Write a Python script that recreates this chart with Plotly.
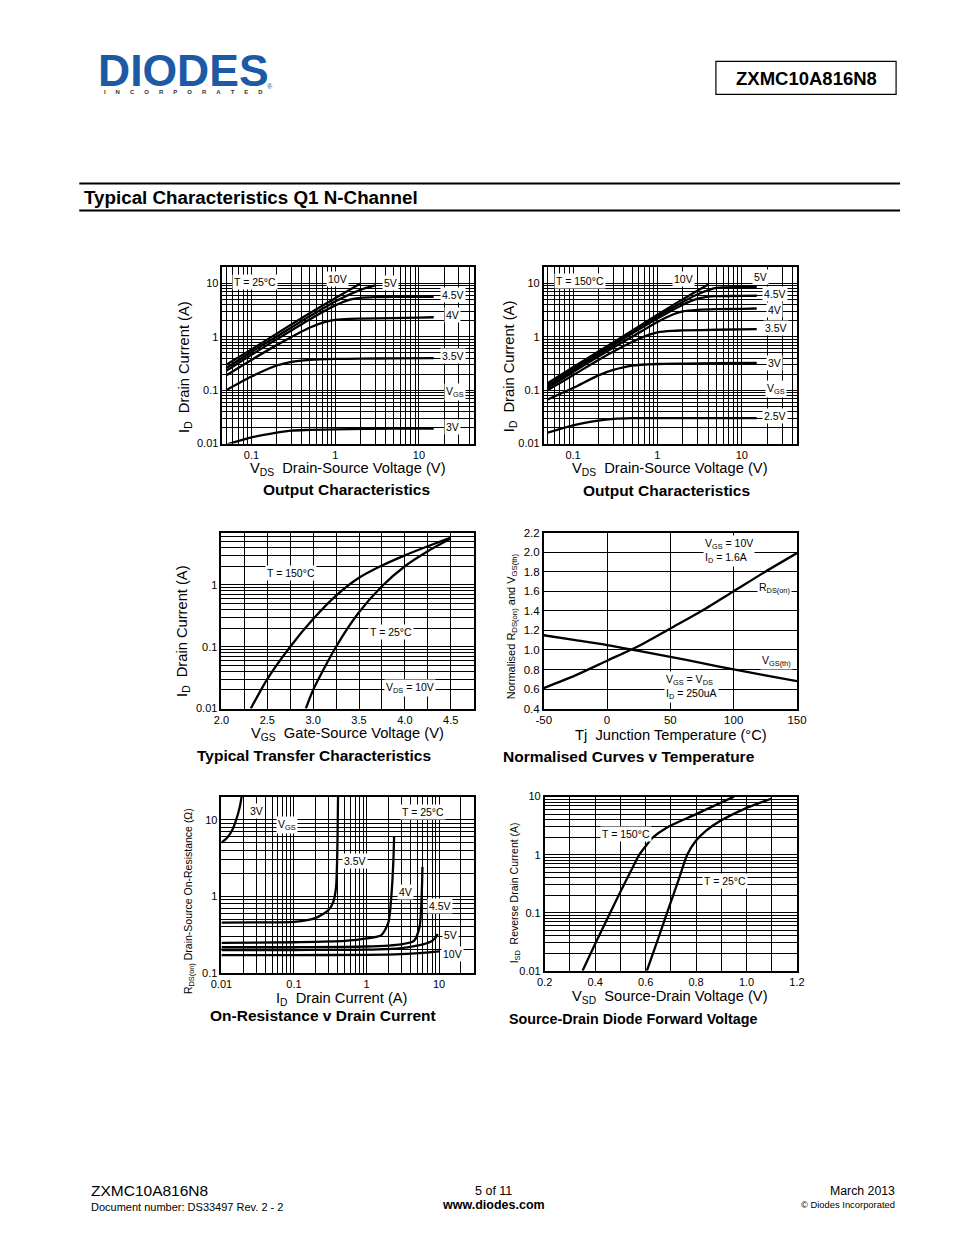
import numpy as np
import plotly.graph_objects as go

W, H = 954, 1235
FONT = "Liberation Sans, Arial, sans-serif"

# ---------------- data ----------------
# Output characteristics, T = 25 C  (V_DS in V, I_D in A)
oc25_10v_x = [0.05, 0.1, 0.2, 0.5, 1, 2]
oc25_10v_y = [0.30, 0.58, 1.15, 2.8, 5.3, 10]
oc25_5v_x = [0.05, 0.1, 0.2, 0.5, 1, 2, 3]
oc25_5v_y = [0.26, 0.52, 1.02, 2.45, 4.6, 7.6, 9.2]
oc25_45v_x = [0.05, 0.1, 0.2, 0.5, 1, 1.5, 2, 3, 5, 10, 15]
oc25_45v_y = [0.23, 0.46, 0.9, 2.15, 3.9, 5.0, 5.4, 5.55, 5.6, 5.6, 5.6]
oc25_4v_x = [0.05, 0.1, 0.2, 0.5, 0.8, 1, 1.5, 2, 5, 10, 15]
oc25_4v_y = [0.19, 0.37, 0.7, 1.5, 1.95, 2.08, 2.18, 2.2, 2.25, 2.3, 2.33]
oc25_35v_x = [0.05, 0.1, 0.2, 0.3, 0.5, 1, 2, 5, 15]
oc25_35v_y = [0.10, 0.18, 0.29, 0.34, 0.37, 0.385, 0.39, 0.395, 0.40]
oc25_3v_x = [0.05, 0.1, 0.2, 0.3, 0.5, 1, 5, 15]
oc25_3v_y = [0.0095, 0.013, 0.016, 0.0175, 0.018, 0.0185, 0.019, 0.019]

# Output characteristics, T = 150 C
oc150_10v_x = [0.05, 0.1, 0.2, 0.5, 1, 2, 4]
oc150_10v_y = [0.135, 0.27, 0.53, 1.3, 2.6, 5.1, 9.6]
oc150_5v_x = [0.05, 0.1, 0.2, 0.5, 1, 2, 3, 5, 10, 15]
oc150_5v_y = [0.125, 0.25, 0.5, 1.2, 2.4, 4.5, 6.3, 8.3, 8.6, 8.6]
oc150_45v_x = [0.05, 0.1, 0.2, 0.5, 1, 2, 3, 4, 5, 10, 15]
oc150_45v_y = [0.12, 0.24, 0.47, 1.15, 2.2, 4.0, 5.2, 5.7, 5.8, 5.85, 5.9]
oc150_4v_x = [0.05, 0.1, 0.2, 0.5, 1, 1.5, 2, 3, 5, 10, 15]
oc150_4v_y = [0.11, 0.22, 0.43, 1.0, 1.9, 2.6, 3.0, 3.2, 3.3, 3.35, 3.4]
oc150_35v_x = [0.05, 0.1, 0.2, 0.5, 0.8, 1, 1.5, 2, 5, 15]
oc150_35v_y = [0.10, 0.19, 0.37, 0.8, 1.1, 1.22, 1.3, 1.32, 1.36, 1.4]
oc150_3v_x = [0.05, 0.1, 0.2, 0.3, 0.5, 1, 2, 5, 15]
oc150_3v_y = [0.067, 0.11, 0.19, 0.24, 0.29, 0.31, 0.315, 0.32, 0.325]
oc150_25v_x = [0.05, 0.1, 0.2, 0.3, 0.5, 1, 5, 15]
oc150_25v_y = [0.016, 0.022, 0.027, 0.029, 0.03, 0.03, 0.03, 0.03]

# Transfer characteristics (V_GS in V, I_D in A)
tr150_x = [2.32, 2.5, 2.75, 3.0, 3.25, 3.5, 3.75, 4.0, 4.25, 4.5]
tr150_y = [0.01, 0.03, 0.1, 0.28, 0.67, 1.3, 2.05, 3.0, 4.2, 5.8]
tr25_x = [2.92, 3.0, 3.25, 3.5, 3.75, 4.0, 4.25, 4.5]
tr25_y = [0.01, 0.02, 0.1, 0.36, 0.95, 2.0, 3.5, 5.6]

# Normalised curves v temperature
nt_temp = [-50, -25, 0, 25, 50, 75, 100, 125, 150]
nt_rds = [0.61, 0.74, 0.89, 1.04, 1.22, 1.40, 1.60, 1.80, 1.99]
nt_vth = [1.15, 1.10, 1.05, 0.99, 0.93, 0.865, 0.80, 0.74, 0.68]
nt_xticks = [-50, 0, 50, 100, 150]
nt_xlabels = ["-50", "0", "50", "100", "150"]

# On-resistance v drain current (I_D in A, R in ohm)
ron_3v_x = [0.01, 0.012, 0.014, 0.016, 0.018, 0.019]
ron_3v_y = [5.0, 5.8, 7.2, 10, 15, 20]
ron_35v_x = [0.01, 0.05, 0.1, 0.2, 0.3, 0.35, 0.38, 0.395, 0.405]
ron_35v_y = [0.45, 0.455, 0.46, 0.52, 0.66, 0.85, 1.3, 3.5, 20]
ron_4v_x = [0.01, 0.1, 0.5, 1.0, 1.6, 2.0, 2.2, 2.35, 2.4]
ron_4v_y = [0.245, 0.25, 0.26, 0.28, 0.31, 0.45, 1.0, 3.0, 6.0]
ron_45v_x = [0.01, 0.1, 1.0, 3.0, 4.5, 5.4, 5.7, 5.85, 5.9]
ron_45v_y = [0.215, 0.215, 0.22, 0.235, 0.26, 0.4, 0.8, 1.6, 2.4]
ron_5v_x = [0.01, 0.1, 1.0, 3.0, 6.0, 8.0, 9.0, 9.6]
ron_5v_y = [0.198, 0.198, 0.2, 0.21, 0.235, 0.26, 0.29, 0.32]
ron_10v_x = [0.01, 0.1, 1.0, 3.0, 6.0, 10]
ron_10v_y = [0.17, 0.17, 0.171, 0.175, 0.182, 0.19]

# Source-drain diode forward voltage (V_SD in V, I_SD in A)
sd150_x = [0.35, 0.40, 0.45, 0.50, 0.55, 0.575, 0.60, 0.63, 0.685, 0.80, 0.95]
sd150_y = [0.01, 0.029, 0.082, 0.23, 0.62, 1.0, 1.4, 2.0, 2.95, 5.0, 10]
sd25_x = [0.605, 0.65, 0.69, 0.73, 0.765, 0.80, 0.84, 0.90, 0.99, 1.10]
sd25_y = [0.01, 0.036, 0.115, 0.36, 1.0, 1.75, 2.6, 3.9, 6.1, 9.3]

log_ticks_i = [0.01, 0.1, 1, 10]
log_ticks_v = [0.1, 1, 10]

# ---------------- helpers ----------------
# page pixel -> paper fraction (with a small correction for how the page is photographed)
KX, BX = 0.977, 11.8
KY, BY = 0.990, 5.6


def fx(px):
    return ((px - BX) / KX) / W


def fy(py):
    return 1 - ((py - BY) / KY) / H


fig = go.Figure()


def curve(x, y, ax):
    fig.add_trace(go.Scatter(
        x=x, y=y, mode="lines", xaxis="x" + ax, yaxis="y" + ax,
        line=dict(color="black", width=2.3, shape="spline", smoothing=0.7),
        hoverinfo="skip", showlegend=False))


GW = 1.25


def base_axis(**kw):
    d = dict(showline=True, mirror=True, linecolor="black", linewidth=1.6,
             showgrid=True, gridcolor="black", gridwidth=GW, ticks="",
             zeroline=False, fixedrange=True,
             tickfont=dict(family=FONT, size=11, color="black"))
    d.update(kw)
    return d


def log_axis(lo, hi, dom, anchor, ticks):
    return base_axis(type="log", range=[np.log10(lo), np.log10(hi)], domain=dom,
                     anchor=anchor, tickmode="array", tickvals=ticks,
                     ticktext=[("%g" % t) for t in ticks],
                     minor=dict(showgrid=True, gridcolor="black", gridwidth=GW,
                                dtick="D1", ticks=""))


# plot area pixel boxes  (left, right, top, bottom)
boxes = {
    "": (223, 474, 267, 443),
    "2": (544, 797, 267, 443),
    "3": (222, 474, 532, 708),
    "4": (544, 797, 532, 708),
    "5": (222, 474, 796, 972),
    "6": (545, 797, 796, 970),
}


def dx(k):
    l, r, t, b = boxes[k]
    return [fx(l), fx(r)]


def dy(k):
    l, r, t, b = boxes[k]
    return [fy(b), fy(t)]


layout_axes = {}
layout_axes["xaxis"] = log_axis(0.045, 45, dx(""), "y", log_ticks_v)
layout_axes["yaxis"] = log_axis(0.01, 20, dy(""), "x", log_ticks_i)
layout_axes["xaxis2"] = log_axis(0.045, 45, dx("2"), "y2", log_ticks_v)
layout_axes["yaxis2"] = log_axis(0.01, 20, dy("2"), "x2", log_ticks_i)
layout_axes["xaxis3"] = base_axis(range=[2.0, 4.75], domain=dx("3"), anchor="y3",
                                  tick0=2.0, dtick=0.5, tickformat=".1f",
                                  minor=dict(showgrid=True, gridcolor="black",
                                             gridwidth=GW, dtick=0.25, tick0=2.0))
layout_axes["yaxis3"] = log_axis(0.01, 7, dy("3"), "x3", [0.01, 0.1, 1])
layout_axes["xaxis4"] = base_axis(range=[-50, 150], domain=dx("4"), anchor="y4",
                                  tickmode="array", tickvals=nt_xticks, ticktext=nt_xlabels,
                                  tickfont=dict(family=FONT, size=11.5, color="black"))
layout_axes["yaxis4"] = base_axis(range=[0.4, 2.2], domain=dy("4"), anchor="x4",
                                  tick0=0.4, dtick=0.2, tickformat=".1f",
                                  tickfont=dict(family=FONT, size=11.5, color="black"))
layout_axes["xaxis5"] = log_axis(0.01, 30, dx("5"), "y5", [0.01, 0.1, 1, 10])
layout_axes["yaxis5"] = log_axis(0.1, 20, dy("5"), "x5", [0.1, 1, 10])
layout_axes["xaxis6"] = base_axis(range=[0.2, 1.2], domain=dx("6"), anchor="y6",
                                  tick0=0.2, dtick=0.2, tickformat=".1f",
                                  minor=dict(showgrid=True, gridcolor="black",
                                             gridwidth=GW, dtick=0.1, tick0=0.2))
layout_axes["yaxis6"] = log_axis(0.01, 10, dy("6"), "x6", log_ticks_i)

# ---------------- traces ----------------
for x, y in [(oc25_10v_x, oc25_10v_y), (oc25_5v_x, oc25_5v_y), (oc25_45v_x, oc25_45v_y),
             (oc25_4v_x, oc25_4v_y), (oc25_35v_x, oc25_35v_y), (oc25_3v_x, oc25_3v_y)]:
    curve(x, y, "")
for x, y in [(oc150_10v_x, oc150_10v_y), (oc150_5v_x, oc150_5v_y), (oc150_45v_x, oc150_45v_y),
             (oc150_4v_x, oc150_4v_y), (oc150_35v_x, oc150_35v_y), (oc150_3v_x, oc150_3v_y),
             (oc150_25v_x, oc150_25v_y)]:
    curve(x, y, "2")
curve(tr150_x, tr150_y, "3")
curve(tr25_x, tr25_y, "3")
curve(nt_temp, nt_rds, "4")
curve(nt_temp, nt_vth, "4")
for x, y in [(ron_3v_x, ron_3v_y), (ron_35v_x, ron_35v_y), (ron_4v_x, ron_4v_y),
             (ron_45v_x, ron_45v_y), (ron_5v_x, ron_5v_y), (ron_10v_x, ron_10v_y)]:
    curve(x, y, "5")
curve(sd150_x, sd150_y, "6")
curve(sd25_x, sd25_y, "6")

# ---------------- text ----------------
ann = []


def txt(text, px, py, size=11, bold=False, bg=None, xanchor="center",
        yanchor="middle", angle=0, color="black", align="center", family=FONT):
    if bold:
        text = "<b>" + text + "</b>"
    a = dict(text=text, x=fx(px), y=fy(py), xref="paper", yref="paper",
             showarrow=False, xanchor=xanchor, yanchor=yanchor, textangle=angle,
             align=align, font=dict(family=family, size=size, color=color))
    if bg:
        a.update(bgcolor=bg, borderpad=1)
    ann.append(a)


def lab(text, px, py, size=10.5, align="center"):
    txt(text, px, py, size=size, bg="white", align=align)


# chart 1 labels
lab("T = 25°C", 256, 282)
lab("10V", 338, 279)
lab("5V", 391, 283)
lab("4.5V", 453, 295)
lab("4V", 453, 315)
lab("3.5V", 453, 355)
lab("V<sub>GS</sub>", 455, 391)
lab("3V", 453, 426)
# chart 2 labels
lab("T = 150°C", 580, 281)
lab("10V", 684, 279)
lab("5V", 761, 277)
lab("4.5V", 775, 294)
lab("4V", 775, 310)
lab("3.5V", 776, 328)
lab("3V", 775, 362)
lab("V<sub>GS</sub>", 776, 388)
lab("2.5V", 775, 415)
# chart 3 labels
lab("T = 150°C", 292, 572)
lab("T = 25°C", 391, 631)
lab("V<sub>DS</sub> = 10V", 410, 687)
# chart 4 labels
lab("V<sub>GS</sub> = 10V<br>I<sub>D</sub> = 1.6A", 729, 550, align="left")
lab("R<sub>DS(on)</sub>", 775, 587)
lab("V<sub>GS(th)</sub>", 777, 660)
lab("V<sub>GS</sub> = V<sub>DS</sub><br>I<sub>D</sub> = 250uA", 692, 686, align="left")
# chart 5 labels
lab("3V", 257, 810)
lab("V<sub>GS</sub>", 288, 824)
lab("T = 25°C", 423, 811)
lab("3.5V", 355, 860)
lab("4V", 406, 891)
lab("4.5V", 440, 905)
lab("5V", 451, 934)
lab("10V", 453, 953)
# chart 6 labels
lab("T = 150°C", 626, 833)
lab("T = 25°C", 725, 880)

# axis titles
AT = 14.7
txt("V<sub>DS</sub>  Drain-Source Voltage (V)", 348, 468, size=AT)
txt("V<sub>DS</sub>  Drain-Source Voltage (V)", 670, 468, size=AT)
txt("I<sub>D</sub>  Drain Current (A)", 185, 366, size=AT, angle=-90)
txt("I<sub>D</sub>  Drain Current (A)", 510, 366, size=AT, angle=-90)
txt("V<sub>GS</sub>  Gate-Source Voltage (V)", 348, 733, size=AT)
txt("I<sub>D</sub>  Drain Current (A)", 183, 630, size=AT, angle=-90)
txt("Tj  Junction Temperature (°C)", 671, 734, size=AT)
txt("Normalised R<sub>DS(on)</sub> and V<sub>GS(th)</sub>", 512, 626, size=11, angle=-90)
txt("I<sub>D</sub>  Drain Current (A)", 342, 998, size=AT)
txt("R<sub>DS(on)</sub> Drain-Source On-Resistance (Ω)", 189, 900, size=10.5, angle=-90)
txt("V<sub>SD</sub>  Source-Drain Voltage (V)", 670, 996, size=AT)
txt("I<sub>SD</sub>  Reverse Drain Current (A)", 515, 892, size=10.5, angle=-90)

# chart titles
CT = 15.5
txt("Output Characteristics", 347, 489, size=CT, bold=True)
txt("Output Characteristics", 667, 490, size=CT, bold=True)
txt("Typical Transfer Characteristics", 314, 755, size=CT, bold=True)
txt("Normalised Curves v Temperature", 629, 756, size=CT, bold=True)
txt("On-Resistance v Drain Current", 323, 1015, size=CT, bold=True)
txt("Source-Drain Diode Forward Voltage", 633, 1018, size=14.3, bold=True)

# header logo: one text block (big word + small spaced line underneath)
gap = "\u00a0" * 6
logo = ("<span style='font-size:44.5px;color:#1c5aa6'><b>DIODES</b></span><br>"
        "<b>" + gap.join("INCORPORATED") + "</b>")
txt(logo, 184, 97, size=6, color="#333333", yanchor="bottom")
txt("®", 271, 86, size=7, color="#1c5aa6")
txt("ZXMC10A816N8", 806, 78, size=18.5, bold=True)
txt("Typical Characteristics Q1 N-Channel", 83, 197, size=18.8, bold=True, xanchor="left")

# footer
txt("ZXMC10A816N8", 90, 1190, size=15.5, xanchor="left")
txt("Document number: DS33497 Rev. 2 - 2", 90, 1206, size=11, xanchor="left")
txt("5 of 11", 494, 1190, size=12.5)
txt("www.diodes.com", 494, 1204, size=12.5, bold=True)
txt("March 2013", 897, 1190, size=12.3, xanchor="right")
txt("© Diodes Incorporated", 897, 1204, size=9.4, xanchor="right")

shapes = [
    dict(type="rect", xref="paper", yref="paper", x0=fx(716), x1=fx(896), y0=fy(94), y1=fy(61),
         line=dict(color="black", width=1.2), fillcolor="rgba(0,0,0,0)"),
    dict(type="line", xref="paper", yref="paper", x0=fx(80), x1=fx(900), y0=fy(183), y1=fy(183),
         line=dict(color="black", width=2)),
    dict(type="line", xref="paper", yref="paper", x0=fx(80), x1=fx(900), y0=fy(210), y1=fy(210),
         line=dict(color="black", width=2)),
]

fig.update_layout(
    width=W, height=H, margin=dict(l=0, r=0, t=0, b=0),
    paper_bgcolor="white", plot_bgcolor="white", showlegend=False,
    font=dict(family=FONT, color="black"),
    annotations=ann, shapes=shapes, **layout_axes)

fig.write_html("out.html", config={"displayModeBar": False},
               post_script="document.body.style.margin='0';document.body.style.overflow='hidden';")
